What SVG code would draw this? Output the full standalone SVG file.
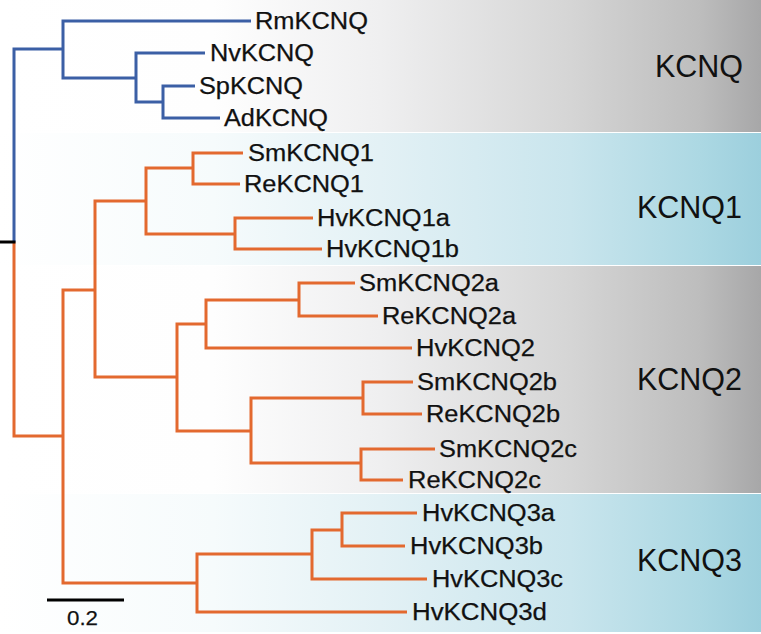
<svg xmlns="http://www.w3.org/2000/svg" width="761" height="634" viewBox="0 0 761 634">
  <defs>
    <linearGradient id="gGray" x1="0" y1="0" x2="761" y2="0" gradientUnits="userSpaceOnUse">
      <stop offset="0" stop-color="#ffffff"/>
      <stop offset="0.28" stop-color="#fefefe"/>
      <stop offset="0.5" stop-color="#efeff0"/>
      <stop offset="0.75" stop-color="#d5d5d5"/>
      <stop offset="0.92" stop-color="#bdbdbd"/>
      <stop offset="1" stop-color="#a7a7a8"/>
    </linearGradient>
    <linearGradient id="gBlue" x1="0" y1="0" x2="761" y2="0" gradientUnits="userSpaceOnUse">
      <stop offset="0" stop-color="#ffffff"/>
      <stop offset="0.28" stop-color="#f6fbfc"/>
      <stop offset="0.5" stop-color="#e3f1f5"/>
      <stop offset="0.75" stop-color="#c9e5ed"/>
      <stop offset="0.92" stop-color="#acd8e3"/>
      <stop offset="1" stop-color="#9ccfdd"/>
    </linearGradient>
    <style>
      .lbl { font-family: "Liberation Sans", Arial, sans-serif; font-size: 23px; fill: #111; stroke: #111; stroke-width: 0.25; }
      .clade { font-family: "Liberation Sans", Arial, sans-serif; font-size: 30.5px; fill: #111; text-anchor: end; }
      .blue { fill: none; stroke: #3b5fa5; stroke-width: 3; stroke-linejoin: miter; stroke-linecap: butt; }
      .orange { fill: none; stroke: #e3692f; stroke-width: 3; stroke-linejoin: miter; stroke-linecap: butt; }
    </style>
  </defs>

  <rect x="0" y="0" width="761" height="634" fill="#ffffff"/>
  <g id="bands">
    <rect x="0" y="0" width="761" height="132" fill="url(#gGray)"/>
    <rect x="0" y="133" width="761" height="132" fill="url(#gBlue)"/>
    <rect x="0" y="266" width="761" height="227" fill="url(#gGray)"/>
    <rect x="0" y="494" width="761" height="138" fill="url(#gBlue)"/>
  </g>

  <g id="connectors">
    <path class="blue" d="M14,242 V49 H63"/>
    <path class="blue" d="M251,21 H63 V78 H136"/>
    <path class="blue" d="M205,53 H136 V102 H163"/>
    <path class="blue" d="M195,86 H163 V118 H220"/>

    <path class="orange" d="M14,242 V436 H63"/>
    <path class="orange" d="M95,290 H63 V583 H197"/>
    <path class="orange" d="M146,201 H95 V377 H177"/>
    <path class="orange" d="M193,168 H146 V234 H235"/>
    <path class="orange" d="M243,153 H193 V184 H240"/>
    <path class="orange" d="M313,218 H235 V249 H322"/>
    <path class="orange" d="M206,324 H177 V431 H251"/>
    <path class="orange" d="M299,300 H206 V348 H412"/>
    <path class="orange" d="M355,283 H299 V316 H378"/>
    <path class="orange" d="M363,398 H251 V463 H361"/>
    <path class="orange" d="M413,382 H363 V414 H422"/>
    <path class="orange" d="M435,449 H361 V480 H403"/>
    <path class="orange" d="M312,554 H197 V612 H407"/>
    <path class="orange" d="M342,530 H312 V579 H427"/>
    <path class="orange" d="M417,513 H342 V546 H405"/>

    <path d="M0,242 H15.5" stroke="#000" stroke-width="3" fill="none"/>
  </g>

  <g id="RmKCNQ"><text class="lbl" x="255" y="28.5" textLength="113" lengthAdjust="spacingAndGlyphs">RmKCNQ</text></g>
  <g id="NvKCNQ"><text class="lbl" x="210" y="60.5" textLength="104" lengthAdjust="spacingAndGlyphs">NvKCNQ</text></g>
  <g id="SpKCNQ"><text class="lbl" x="199" y="93.5" textLength="104" lengthAdjust="spacingAndGlyphs">SpKCNQ</text></g>
  <g id="AdKCNQ"><text class="lbl" x="224" y="125.5" textLength="104" lengthAdjust="spacingAndGlyphs">AdKCNQ</text></g>
  <g id="SmKCNQ1"><text class="lbl" x="248" y="160.5" textLength="126" lengthAdjust="spacingAndGlyphs">SmKCNQ1</text></g>
  <g id="ReKCNQ1"><text class="lbl" x="244" y="191.5" textLength="120" lengthAdjust="spacingAndGlyphs">ReKCNQ1</text></g>
  <g id="HvKCNQ1a"><text class="lbl" x="317" y="225.5" textLength="133" lengthAdjust="spacingAndGlyphs">HvKCNQ1a</text></g>
  <g id="HvKCNQ1b"><text class="lbl" x="326" y="256.5" textLength="133" lengthAdjust="spacingAndGlyphs">HvKCNQ1b</text></g>
  <g id="SmKCNQ2a"><text class="lbl" x="359" y="290.5" textLength="140" lengthAdjust="spacingAndGlyphs">SmKCNQ2a</text></g>
  <g id="ReKCNQ2a"><text class="lbl" x="382" y="323.5" textLength="134" lengthAdjust="spacingAndGlyphs">ReKCNQ2a</text></g>
  <g id="HvKCNQ2"><text class="lbl" x="416" y="355.5" textLength="119" lengthAdjust="spacingAndGlyphs">HvKCNQ2</text></g>
  <g id="SmKCNQ2b"><text class="lbl" x="417" y="389.5" textLength="140" lengthAdjust="spacingAndGlyphs">SmKCNQ2b</text></g>
  <g id="ReKCNQ2b"><text class="lbl" x="426" y="421.5" textLength="134" lengthAdjust="spacingAndGlyphs">ReKCNQ2b</text></g>
  <g id="SmKCNQ2c"><text class="lbl" x="439" y="456.5" textLength="138" lengthAdjust="spacingAndGlyphs">SmKCNQ2c</text></g>
  <g id="ReKCNQ2c"><text class="lbl" x="408" y="487.5" textLength="133" lengthAdjust="spacingAndGlyphs">ReKCNQ2c</text></g>
  <g id="HvKCNQ3a"><text class="lbl" x="422" y="520.5" textLength="133" lengthAdjust="spacingAndGlyphs">HvKCNQ3a</text></g>
  <g id="HvKCNQ3b"><text class="lbl" x="410" y="553.5" textLength="133" lengthAdjust="spacingAndGlyphs">HvKCNQ3b</text></g>
  <g id="HvKCNQ3c"><text class="lbl" x="432" y="586.5" textLength="131" lengthAdjust="spacingAndGlyphs">HvKCNQ3c</text></g>
  <g id="HvKCNQ3d"><text class="lbl" x="412" y="619.5" textLength="135" lengthAdjust="spacingAndGlyphs">HvKCNQ3d</text></g>

  <g id="clade-KCNQ"><text class="clade" x="743" y="77">KCNQ</text></g>
  <g id="clade-KCNQ1"><text class="clade" x="742" y="218">KCNQ1</text></g>
  <g id="clade-KCNQ2"><text class="clade" x="742" y="390">KCNQ2</text></g>
  <g id="clade-KCNQ3"><text class="clade" x="742" y="571">KCNQ3</text></g>

  <g id="scalebar">
    <path d="M47,600 H124" stroke="#000" stroke-width="3" fill="none"/>
    <text class="lbl" x="67" y="625" textLength="31" lengthAdjust="spacingAndGlyphs" style="font-size:21px">0.2</text>
  </g>
</svg>
